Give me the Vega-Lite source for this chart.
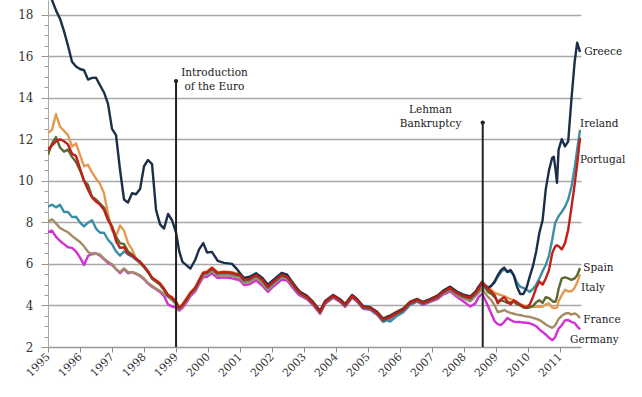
{
  "$schema": "https://vega.github.io/schema/vega-lite/v6.json",
  "width": 533,
  "height": 347,
  "autosize": "none",
  "padding": {"left": 48, "top": 0, "right": 61, "bottom": 50},
  "background": "white",
  "config": {"view": {"stroke": null}, "font": "DejaVu Serif"},
  "encoding": {
    "x": {"field": "t", "type": "quantitative",
      "scale": {"domain": [1995, 2011.65], "nice": false, "zero": false},
      "axis": {"title": null, "values": [1995,1996,1997,1998,1999,2000,2001,2002,2003,2004,2005,2006,2007,2008,2009,2010,2011],
        "format": "d", "labelAngle": -45, "labelAlign": "right", "labelBaseline": "middle", "labelPadding": 3,
        "labelFont": "DejaVu Serif", "labelFontSize": 11, "labelColor": "#333333", "labelFlush": false, "labelOverlap": false, "labelBound": false,
        "tickSize": 5, "tickColor": "#888888", "domainColor": "#999999", "domainWidth": 1.5, "grid": false}},
    "y": {"field": "v", "type": "quantitative",
      "scale": {"domain": [2, 18.7], "nice": false, "zero": false},
      "axis": {"title": null,
        "values": [2,2.5,3,3.5,4,4.5,5,5.5,6,6.5,7,7.5,8,8.5,9,9.5,10,10.5,11,11.5,12,12.5,13,13.5,14,14.5,15,15.5,16,16.5,17,17.5,18],
        "labelExpr": "datum.value % 2 === 0 ? format(datum.value, 'd') : ''",
        "labelFont": "DejaVu Serif", "labelFontSize": 12, "labelColor": "#333333", "labelPadding": 8, "labelOverlap": false,
        "tickSize": {"condition": {"test": "datum.value % 2 === 0", "value": 7}, "value": 4},
        "tickColor": "#999999", "domainColor": "#aaaaaa", "domainWidth": 1,
        "grid": true, "gridColor": "#a8a8a8", "gridWidth": 1.5,
        "gridOpacity": {"condition": {"test": "datum.value % 2 === 0 && datum.value > 2", "value": 1}, "value": 0}}}
  },
  "layer": [
    {
      "data": {"values": [
        {"t":1995.0,"Greece":19.6,"Ireland":8.75,"Portugal":11.5,"Spain":11.25,"Italy":12.3,"France":8.03,"Germany":7.54},
        {"t":1995.125,"Greece":18.7,"Ireland":8.85,"Portugal":11.7,"Spain":11.8,"Italy":12.45,"France":8.15,"Germany":7.6},
        {"t":1995.25,"Greece":18.2,"Ireland":8.72,"Portugal":11.9,"Spain":12.1,"Italy":13.2,"France":7.95,"Germany":7.3},
        {"t":1995.375,"Greece":17.8,"Ireland":8.84,"Portugal":12.0,"Spain":11.6,"Italy":12.6,"France":7.73,"Germany":7.1},
        {"t":1995.5,"Greece":17.2,"Ireland":8.5,"Portugal":11.9,"Spain":11.4,"Italy":12.4,"France":7.62,"Germany":6.95},
        {"t":1995.625,"Greece":16.5,"Ireland":8.5,"Portugal":11.75,"Spain":11.5,"Italy":12.2,"France":7.52,"Germany":6.8},
        {"t":1995.75,"Greece":15.73,"Ireland":8.25,"Portugal":11.3,"Spain":11.15,"Italy":11.64,"France":7.35,"Germany":6.77},
        {"t":1995.875,"Greece":15.5,"Ireland":8.27,"Portugal":11.2,"Spain":10.9,"Italy":11.8,"France":7.2,"Germany":6.6},
        {"t":1996.0,"Greece":15.38,"Ireland":8.0,"Portugal":10.6,"Spain":10.5,"Italy":11.25,"France":7.05,"Germany":6.3},
        {"t":1996.125,"Greece":15.32,"Ireland":7.8,"Portugal":10.0,"Spain":10.0,"Italy":10.7,"France":6.85,"Germany":5.95},
        {"t":1996.25,"Greece":14.87,"Ireland":7.98,"Portugal":9.57,"Spain":9.8,"Italy":10.77,"France":6.58,"Germany":6.38},
        {"t":1996.375,"Greece":14.95,"Ireland":8.1,"Portugal":9.2,"Spain":9.23,"Italy":10.4,"France":6.45,"Germany":6.5},
        {"t":1996.5,"Greece":14.96,"Ireland":7.7,"Portugal":9.0,"Spain":9.1,"Italy":10.1,"France":6.5,"Germany":6.5},
        {"t":1996.625,"Greece":14.6,"Ireland":7.5,"Portugal":8.85,"Spain":8.9,"Italy":9.85,"France":6.45,"Germany":6.4},
        {"t":1996.75,"Greece":14.25,"Ireland":7.5,"Portugal":8.6,"Spain":8.7,"Italy":9.4,"France":6.25,"Germany":6.22},
        {"t":1996.875,"Greece":13.7,"Ireland":7.16,"Portugal":8.1,"Spain":8.2,"Italy":8.4,"France":6.1,"Germany":6.05},
        {"t":1997.0,"Greece":12.5,"Ireland":6.95,"Portugal":7.78,"Spain":7.8,"Italy":7.6,"France":5.98,"Germany":5.95},
        {"t":1997.125,"Greece":12.2,"Ireland":6.6,"Portugal":7.1,"Spain":7.3,"Italy":7.35,"France":5.75,"Germany":5.75},
        {"t":1997.25,"Greece":10.53,"Ireland":6.4,"Portugal":6.77,"Spain":7.0,"Italy":7.85,"France":5.6,"Germany":5.55},
        {"t":1997.375,"Greece":9.1,"Ireland":6.6,"Portugal":6.8,"Spain":6.95,"Italy":7.6,"France":5.78,"Germany":5.75},
        {"t":1997.5,"Greece":8.95,"Ireland":6.45,"Portugal":6.5,"Spain":6.6,"Italy":7.0,"France":5.6,"Germany":5.55},
        {"t":1997.625,"Greece":9.4,"Ireland":6.35,"Portugal":6.4,"Spain":6.45,"Italy":6.7,"France":5.6,"Germany":5.6},
        {"t":1997.75,"Greece":9.35,"Ireland":6.2,"Portugal":6.25,"Spain":6.25,"Italy":6.25,"France":5.55,"Germany":5.52},
        {"t":1997.875,"Greece":9.6,"Ireland":6.05,"Portugal":6.1,"Spain":6.1,"Italy":6.0,"France":5.45,"Germany":5.42},
        {"t":1998.0,"Greece":10.7,"Ireland":5.85,"Portugal":5.9,"Spain":5.85,"Italy":5.85,"France":5.3,"Germany":5.25},
        {"t":1998.125,"Greece":11.0,"Ireland":5.6,"Portugal":5.65,"Spain":5.6,"Italy":5.62,"France":5.08,"Germany":5.05},
        {"t":1998.25,"Greece":10.8,"Ireland":5.3,"Portugal":5.33,"Spain":5.3,"Italy":5.35,"France":4.95,"Germany":4.9},
        {"t":1998.375,"Greece":8.6,"Ireland":5.15,"Portugal":5.2,"Spain":5.15,"Italy":5.2,"France":4.82,"Germany":4.78},
        {"t":1998.5,"Greece":7.9,"Ireland":5.0,"Portugal":5.05,"Spain":5.0,"Italy":5.08,"France":4.7,"Germany":4.65},
        {"t":1998.625,"Greece":7.7,"Ireland":4.75,"Portugal":4.8,"Spain":4.75,"Italy":4.82,"France":4.55,"Germany":4.45},
        {"t":1998.75,"Greece":8.4,"Ireland":4.45,"Portugal":4.5,"Spain":4.45,"Italy":4.5,"France":4.41,"Germany":4.05},
        {"t":1998.875,"Greece":8.1,"Ireland":4.33,"Portugal":4.38,"Spain":4.33,"Italy":4.4,"France":4.26,"Germany":3.95},
        {"t":1999.0,"Greece":7.5,"Ireland":4.1,"Portugal":4.15,"Spain":4.12,"Italy":4.2,"France":4.05,"Germany":3.9},
        {"t":1999.1,"Greece":6.6,"Ireland":3.85,"Portugal":3.88,"Spain":3.86,"Italy":3.92,"France":3.82,"Germany":3.75},
        {"t":1999.2,"Greece":6.1,"Ireland":4.0,"Portugal":4.02,"Spain":4.0,"Italy":4.06,"France":3.95,"Germany":3.88},
        {"t":1999.35,"Greece":5.9,"Ireland":4.33,"Portugal":4.36,"Spain":4.34,"Italy":4.4,"France":4.28,"Germany":4.2},
        {"t":1999.45,"Greece":5.78,"Ireland":4.57,"Portugal":4.6,"Spain":4.58,"Italy":4.63,"France":4.52,"Germany":4.45},
        {"t":1999.6,"Greece":6.2,"Ireland":4.8,"Portugal":4.84,"Spain":4.82,"Italy":4.88,"France":4.76,"Germany":4.68},
        {"t":1999.72,"Greece":6.7,"Ireland":5.16,"Portugal":5.2,"Spain":5.18,"Italy":5.24,"France":5.1,"Germany":5.02},
        {"t":1999.85,"Greece":7.0,"Ireland":5.52,"Portugal":5.57,"Spain":5.55,"Italy":5.6,"France":5.45,"Germany":5.35},
        {"t":1999.97,"Greece":6.55,"Ireland":5.55,"Portugal":5.6,"Spain":5.58,"Italy":5.64,"France":5.48,"Germany":5.38},
        {"t":2000.12,"Greece":6.58,"Ireland":5.75,"Portugal":5.8,"Spain":5.78,"Italy":5.84,"France":5.65,"Germany":5.55},
        {"t":2000.3,"Greece":6.15,"Ireland":5.52,"Portugal":5.57,"Spain":5.55,"Italy":5.6,"France":5.42,"Germany":5.32},
        {"t":2000.5,"Greece":6.05,"Ireland":5.55,"Portugal":5.6,"Spain":5.58,"Italy":5.64,"France":5.45,"Germany":5.35},
        {"t":2000.75,"Greece":6.0,"Ireland":5.52,"Portugal":5.57,"Spain":5.55,"Italy":5.6,"France":5.42,"Germany":5.3},
        {"t":2000.9,"Greece":5.75,"Ireland":5.45,"Portugal":5.5,"Spain":5.48,"Italy":5.54,"France":5.36,"Germany":5.25},
        {"t":2001.0,"Greece":5.55,"Ireland":5.42,"Portugal":5.47,"Spain":5.45,"Italy":5.5,"France":5.32,"Germany":5.2},
        {"t":2001.12,"Greece":5.33,"Ireland":5.18,"Portugal":5.23,"Spain":5.21,"Italy":5.27,"France":5.08,"Germany":4.98},
        {"t":2001.3,"Greece":5.38,"Ireland":5.23,"Portugal":5.28,"Spain":5.26,"Italy":5.32,"France":5.13,"Germany":5.02},
        {"t":2001.5,"Greece":5.55,"Ireland":5.42,"Portugal":5.47,"Spain":5.45,"Italy":5.5,"France":5.32,"Germany":5.2},
        {"t":2001.7,"Greece":5.32,"Ireland":5.18,"Portugal":5.23,"Spain":5.21,"Italy":5.27,"France":5.05,"Germany":4.95},
        {"t":2001.87,"Greece":5.0,"Ireland":4.85,"Portugal":4.9,"Spain":4.88,"Italy":4.94,"France":4.75,"Germany":4.65},
        {"t":2002.03,"Greece":5.22,"Ireland":5.08,"Portugal":5.13,"Spain":5.11,"Italy":5.17,"France":5.0,"Germany":4.9},
        {"t":2002.3,"Greece":5.57,"Ireland":5.42,"Portugal":5.47,"Spain":5.45,"Italy":5.5,"France":5.35,"Germany":5.25},
        {"t":2002.47,"Greece":5.48,"Ireland":5.34,"Portugal":5.38,"Spain":5.36,"Italy":5.42,"France":5.28,"Germany":5.2},
        {"t":2002.62,"Greece":5.15,"Ireland":5.03,"Portugal":5.08,"Spain":5.06,"Italy":5.12,"France":4.98,"Germany":4.9},
        {"t":2002.78,"Greece":4.82,"Ireland":4.7,"Portugal":4.75,"Spain":4.73,"Italy":4.78,"France":4.68,"Germany":4.6},
        {"t":2002.87,"Greece":4.66,"Ireland":4.56,"Portugal":4.6,"Spain":4.58,"Italy":4.64,"France":4.54,"Germany":4.48},
        {"t":2003.09,"Greece":4.46,"Ireland":4.37,"Portugal":4.41,"Spain":4.39,"Italy":4.45,"France":4.36,"Germany":4.3},
        {"t":2003.28,"Greece":4.17,"Ireland":4.08,"Portugal":4.12,"Spain":4.1,"Italy":4.16,"France":4.07,"Germany":4.02},
        {"t":2003.5,"Greece":3.74,"Ireland":3.65,"Portugal":3.69,"Spain":3.67,"Italy":3.73,"France":3.64,"Germany":3.6},
        {"t":2003.66,"Greece":4.22,"Ireland":4.13,"Portugal":4.17,"Spain":4.15,"Italy":4.21,"France":4.12,"Germany":4.08},
        {"t":2003.91,"Greece":4.5,"Ireland":4.42,"Portugal":4.46,"Spain":4.44,"Italy":4.5,"France":4.41,"Germany":4.37},
        {"t":2004.12,"Greece":4.3,"Ireland":4.22,"Portugal":4.26,"Spain":4.24,"Italy":4.3,"France":4.21,"Germany":4.17},
        {"t":2004.28,"Greece":4.06,"Ireland":3.98,"Portugal":4.02,"Spain":4.0,"Italy":4.06,"France":3.97,"Germany":3.93},
        {"t":2004.5,"Greece":4.5,"Ireland":4.42,"Portugal":4.46,"Spain":4.44,"Italy":4.5,"France":4.41,"Germany":4.37},
        {"t":2004.66,"Greece":4.3,"Ireland":4.22,"Portugal":4.26,"Spain":4.24,"Italy":4.3,"France":4.21,"Germany":4.17},
        {"t":2004.84,"Greece":3.97,"Ireland":3.88,"Portugal":3.93,"Spain":3.91,"Italy":3.97,"France":3.88,"Germany":3.84},
        {"t":2005.06,"Greece":3.92,"Ireland":3.83,"Portugal":3.88,"Spain":3.86,"Italy":3.92,"France":3.83,"Germany":3.79},
        {"t":2005.28,"Greece":3.68,"Ireland":3.58,"Portugal":3.64,"Spain":3.62,"Italy":3.7,"France":3.59,"Germany":3.55},
        {"t":2005.47,"Greece":3.35,"Ireland":3.22,"Portugal":3.3,"Spain":3.28,"Italy":3.38,"France":3.26,"Germany":3.22},
        {"t":2005.6,"Greece":3.45,"Ireland":3.28,"Portugal":3.4,"Spain":3.38,"Italy":3.48,"France":3.36,"Germany":3.32},
        {"t":2005.69,"Greece":3.5,"Ireland":3.22,"Portugal":3.45,"Spain":3.43,"Italy":3.53,"France":3.4,"Germany":3.36},
        {"t":2005.9,"Greece":3.68,"Ireland":3.5,"Portugal":3.64,"Spain":3.62,"Italy":3.72,"France":3.59,"Germany":3.55},
        {"t":2006.09,"Greece":3.82,"Ireland":3.66,"Portugal":3.78,"Spain":3.76,"Italy":3.86,"France":3.73,"Germany":3.7},
        {"t":2006.31,"Greece":4.16,"Ireland":4.03,"Portugal":4.12,"Spain":4.1,"Italy":4.2,"France":4.07,"Germany":4.04},
        {"t":2006.53,"Greece":4.3,"Ireland":4.2,"Portugal":4.26,"Spain":4.24,"Italy":4.33,"France":4.21,"Germany":4.18},
        {"t":2006.72,"Greece":4.16,"Ireland":4.07,"Portugal":4.12,"Spain":4.1,"Italy":4.18,"France":4.07,"Germany":4.03},
        {"t":2006.94,"Greece":4.3,"Ireland":4.21,"Portugal":4.26,"Spain":4.24,"Italy":4.32,"France":4.21,"Germany":4.17},
        {"t":2007.16,"Greece":4.46,"Ireland":4.37,"Portugal":4.41,"Spain":4.39,"Italy":4.47,"France":4.35,"Germany":4.3},
        {"t":2007.34,"Greece":4.7,"Ireland":4.6,"Portugal":4.65,"Spain":4.63,"Italy":4.7,"France":4.58,"Germany":4.52},
        {"t":2007.56,"Greece":4.9,"Ireland":4.8,"Portugal":4.84,"Spain":4.82,"Italy":4.9,"France":4.75,"Germany":4.68},
        {"t":2007.78,"Greece":4.66,"Ireland":4.55,"Portugal":4.6,"Spain":4.58,"Italy":4.66,"France":4.48,"Germany":4.4},
        {"t":2007.97,"Greece":4.52,"Ireland":4.42,"Portugal":4.46,"Spain":4.44,"Italy":4.52,"France":4.35,"Germany":4.2},
        {"t":2008.19,"Greece":4.42,"Ireland":4.32,"Portugal":4.36,"Spain":4.34,"Italy":4.45,"France":4.2,"Germany":3.95},
        {"t":2008.35,"Greece":4.65,"Ireland":4.55,"Portugal":4.6,"Spain":4.6,"Italy":4.65,"France":4.45,"Germany":4.1},
        {"t":2008.45,"Greece":4.9,"Ireland":4.8,"Portugal":4.8,"Spain":4.75,"Italy":4.8,"France":4.6,"Germany":4.4},
        {"t":2008.56,"Greece":5.13,"Ireland":5.05,"Portugal":5.13,"Spain":5.05,"Italy":5.15,"France":4.8,"Germany":4.55},
        {"t":2008.65,"Greece":4.95,"Ireland":4.95,"Portugal":4.95,"Spain":4.85,"Italy":5.0,"France":4.6,"Germany":4.3},
        {"t":2008.75,"Greece":4.84,"Ireland":4.85,"Portugal":4.8,"Spain":4.65,"Italy":4.9,"France":4.4,"Germany":3.95},
        {"t":2008.85,"Greece":4.95,"Ireland":4.95,"Portugal":4.65,"Spain":4.55,"Italy":4.75,"France":4.25,"Germany":3.6},
        {"t":2008.95,"Greece":5.15,"Ireland":5.1,"Portugal":4.5,"Spain":4.4,"Italy":4.62,"France":4.0,"Germany":3.25},
        {"t":2009.05,"Greece":5.45,"Ireland":5.38,"Portugal":4.1,"Spain":4.2,"Italy":4.55,"France":3.68,"Germany":3.1},
        {"t":2009.15,"Greece":5.7,"Ireland":5.6,"Portugal":4.3,"Spain":4.25,"Italy":4.5,"France":3.72,"Germany":3.05},
        {"t":2009.25,"Greece":5.82,"Ireland":5.75,"Portugal":4.4,"Spain":4.2,"Italy":4.45,"France":3.78,"Germany":3.2},
        {"t":2009.35,"Greece":5.62,"Ireland":5.6,"Portugal":4.2,"Spain":4.12,"Italy":4.38,"France":3.7,"Germany":3.4},
        {"t":2009.45,"Greece":5.7,"Ireland":5.68,"Portugal":4.05,"Spain":4.15,"Italy":4.3,"France":3.64,"Germany":3.3},
        {"t":2009.55,"Greece":5.45,"Ireland":5.45,"Portugal":4.25,"Spain":4.17,"Italy":4.25,"France":3.6,"Germany":3.22},
        {"t":2009.65,"Greece":4.9,"Ireland":5.1,"Portugal":4.15,"Spain":4.05,"Italy":4.15,"France":3.56,"Germany":3.2},
        {"t":2009.75,"Greece":4.55,"Ireland":4.9,"Portugal":4.05,"Spain":4.0,"Italy":4.05,"France":3.54,"Germany":3.2},
        {"t":2009.85,"Greece":4.55,"Ireland":4.85,"Portugal":3.95,"Spain":3.9,"Italy":4.0,"France":3.5,"Germany":3.18},
        {"t":2009.95,"Greece":4.85,"Ireland":4.75,"Portugal":3.9,"Spain":3.88,"Italy":3.98,"France":3.47,"Germany":3.16},
        {"t":2010.05,"Greece":5.4,"Ireland":4.65,"Portugal":4.05,"Spain":3.9,"Italy":3.95,"France":3.45,"Germany":3.14},
        {"t":2010.15,"Greece":5.9,"Ireland":4.8,"Portugal":4.4,"Spain":3.98,"Italy":3.93,"France":3.4,"Germany":3.08},
        {"t":2010.25,"Greece":6.6,"Ireland":5.0,"Portugal":4.85,"Spain":4.15,"Italy":3.95,"France":3.35,"Germany":3.0},
        {"t":2010.35,"Greece":7.5,"Ireland":5.3,"Portugal":5.15,"Spain":4.25,"Italy":3.93,"France":3.3,"Germany":2.85},
        {"t":2010.45,"Greece":8.1,"Ireland":5.65,"Portugal":5.0,"Spain":4.12,"Italy":3.93,"France":3.2,"Germany":2.72},
        {"t":2010.55,"Greece":9.6,"Ireland":5.95,"Portugal":5.3,"Spain":4.4,"Italy":4.05,"France":3.08,"Germany":2.6},
        {"t":2010.65,"Greece":10.5,"Ireland":6.4,"Portugal":5.7,"Spain":4.35,"Italy":4.1,"France":3.0,"Germany":2.45},
        {"t":2010.75,"Greece":11.1,"Ireland":7.16,"Portugal":6.5,"Spain":4.22,"Italy":3.9,"France":2.92,"Germany":2.34},
        {"t":2010.8,"Greece":11.16,"Ireland":7.6,"Portugal":6.7,"Spain":4.17,"Italy":3.88,"France":2.98,"Germany":2.4},
        {"t":2010.85,"Greece":10.6,"Ireland":8.0,"Portugal":6.85,"Spain":4.17,"Italy":3.88,"France":3.06,"Germany":2.5},
        {"t":2010.9,"Greece":9.9,"Ireland":8.15,"Portugal":6.9,"Spain":4.4,"Italy":3.9,"France":3.2,"Germany":2.7},
        {"t":2010.95,"Greece":11.5,"Ireland":8.3,"Portugal":6.85,"Spain":4.8,"Italy":4.2,"France":3.35,"Germany":2.88},
        {"t":2011.05,"Greece":12.0,"Ireland":8.5,"Portugal":6.7,"Spain":5.3,"Italy":4.5,"France":3.5,"Germany":3.05},
        {"t":2011.15,"Greece":11.65,"Ireland":8.75,"Portugal":7.0,"Spain":5.35,"Italy":4.75,"France":3.6,"Germany":3.28},
        {"t":2011.25,"Greece":11.9,"Ireland":9.1,"Portugal":7.64,"Spain":5.3,"Italy":4.68,"France":3.64,"Germany":3.3},
        {"t":2011.35,"Greece":13.9,"Ireland":9.7,"Portugal":8.7,"Spain":5.23,"Italy":4.68,"France":3.56,"Germany":3.2},
        {"t":2011.45,"Greece":15.7,"Ireland":10.6,"Portugal":9.8,"Spain":5.3,"Italy":4.84,"France":3.62,"Germany":3.16},
        {"t":2011.53,"Greece":16.65,"Ireland":11.5,"Portugal":10.8,"Spain":5.45,"Italy":5.1,"France":3.55,"Germany":3.0},
        {"t":2011.62,"Greece":16.2,"Ireland":12.45,"Portugal":12.07,"Spain":5.8,"Italy":5.5,"France":3.4,"Germany":2.85}
      ]},
      "transform": [{"fold": ["Germany","France","Italy","Ireland","Spain","Greece","Portugal"], "as": ["country","v"]}],
      "mark": {"type": "line", "strokeWidth": 2.4, "clip": true, "strokeJoin": "round"},
      "encoding": {
        "color": {"field": "country", "type": "nominal", "legend": null,
          "scale": {"domain": ["Greece","Ireland","Portugal","Spain","Italy","France","Germany"],
                    "range": ["#1c2e4a","#3b8ea5","#c0201a","#5b6b2e","#e39a4f","#a38c64","#d22fd6"]}}
      }
    },
    {
      "data": {"values": [
        {"t": 1999.0, "v": 2, "v2": 14.8},
        {"t": 2008.58, "v": 2, "v2": 12.8}
      ]},
      "mark": {"type": "rule", "color": "#222222", "strokeWidth": 2},
      "encoding": {
        "y2": {"field": "v2"}
      }
    },
    {
      "data": {"values": [
        {"t": 1999.0, "v": 14.8},
        {"t": 2008.58, "v": 12.8}
      ]},
      "mark": {"type": "point", "shape": "circle", "filled": true, "size": 18, "color": "#222222", "opacity": 1},
      "encoding": {}
    },
    {
      "data": {"values": [
        {"t": 2000.2, "v": 15.2, "label": "Introduction"},
        {"t": 2000.2, "v": 14.53, "label": "of the Euro"},
        {"t": 2006.95, "v": 13.42, "label": "Lehman"},
        {"t": 2006.95, "v": 12.75, "label": "Bankruptcy"}
      ]},
      "mark": {"type": "text", "align": "center", "baseline": "middle", "font": "DejaVu Serif", "fontSize": 10.5, "color": "#1a1a1a"},
      "encoding": {
        "text": {"field": "label"}
      }
    },
    {
      "data": {"values": [
        {"t": 2011.75, "v": 16.2, "label": "Greece"},
        {"t": 2011.62, "v": 12.75, "label": "Ireland"},
        {"t": 2011.62, "v": 11.0, "label": "Portugal"},
        {"t": 2011.72, "v": 5.8, "label": "Spain"},
        {"t": 2011.65, "v": 4.84, "label": "Italy"},
        {"t": 2011.72, "v": 3.3, "label": "France"},
        {"t": 2011.31, "v": 2.34, "label": "Germany"}
      ]},
      "mark": {"type": "text", "align": "left", "baseline": "middle", "font": "DejaVu Serif", "fontSize": 10.5, "color": "#1a1a1a"},
      "encoding": {
        "text": {"field": "label"}
      }
    }
  ]
}
